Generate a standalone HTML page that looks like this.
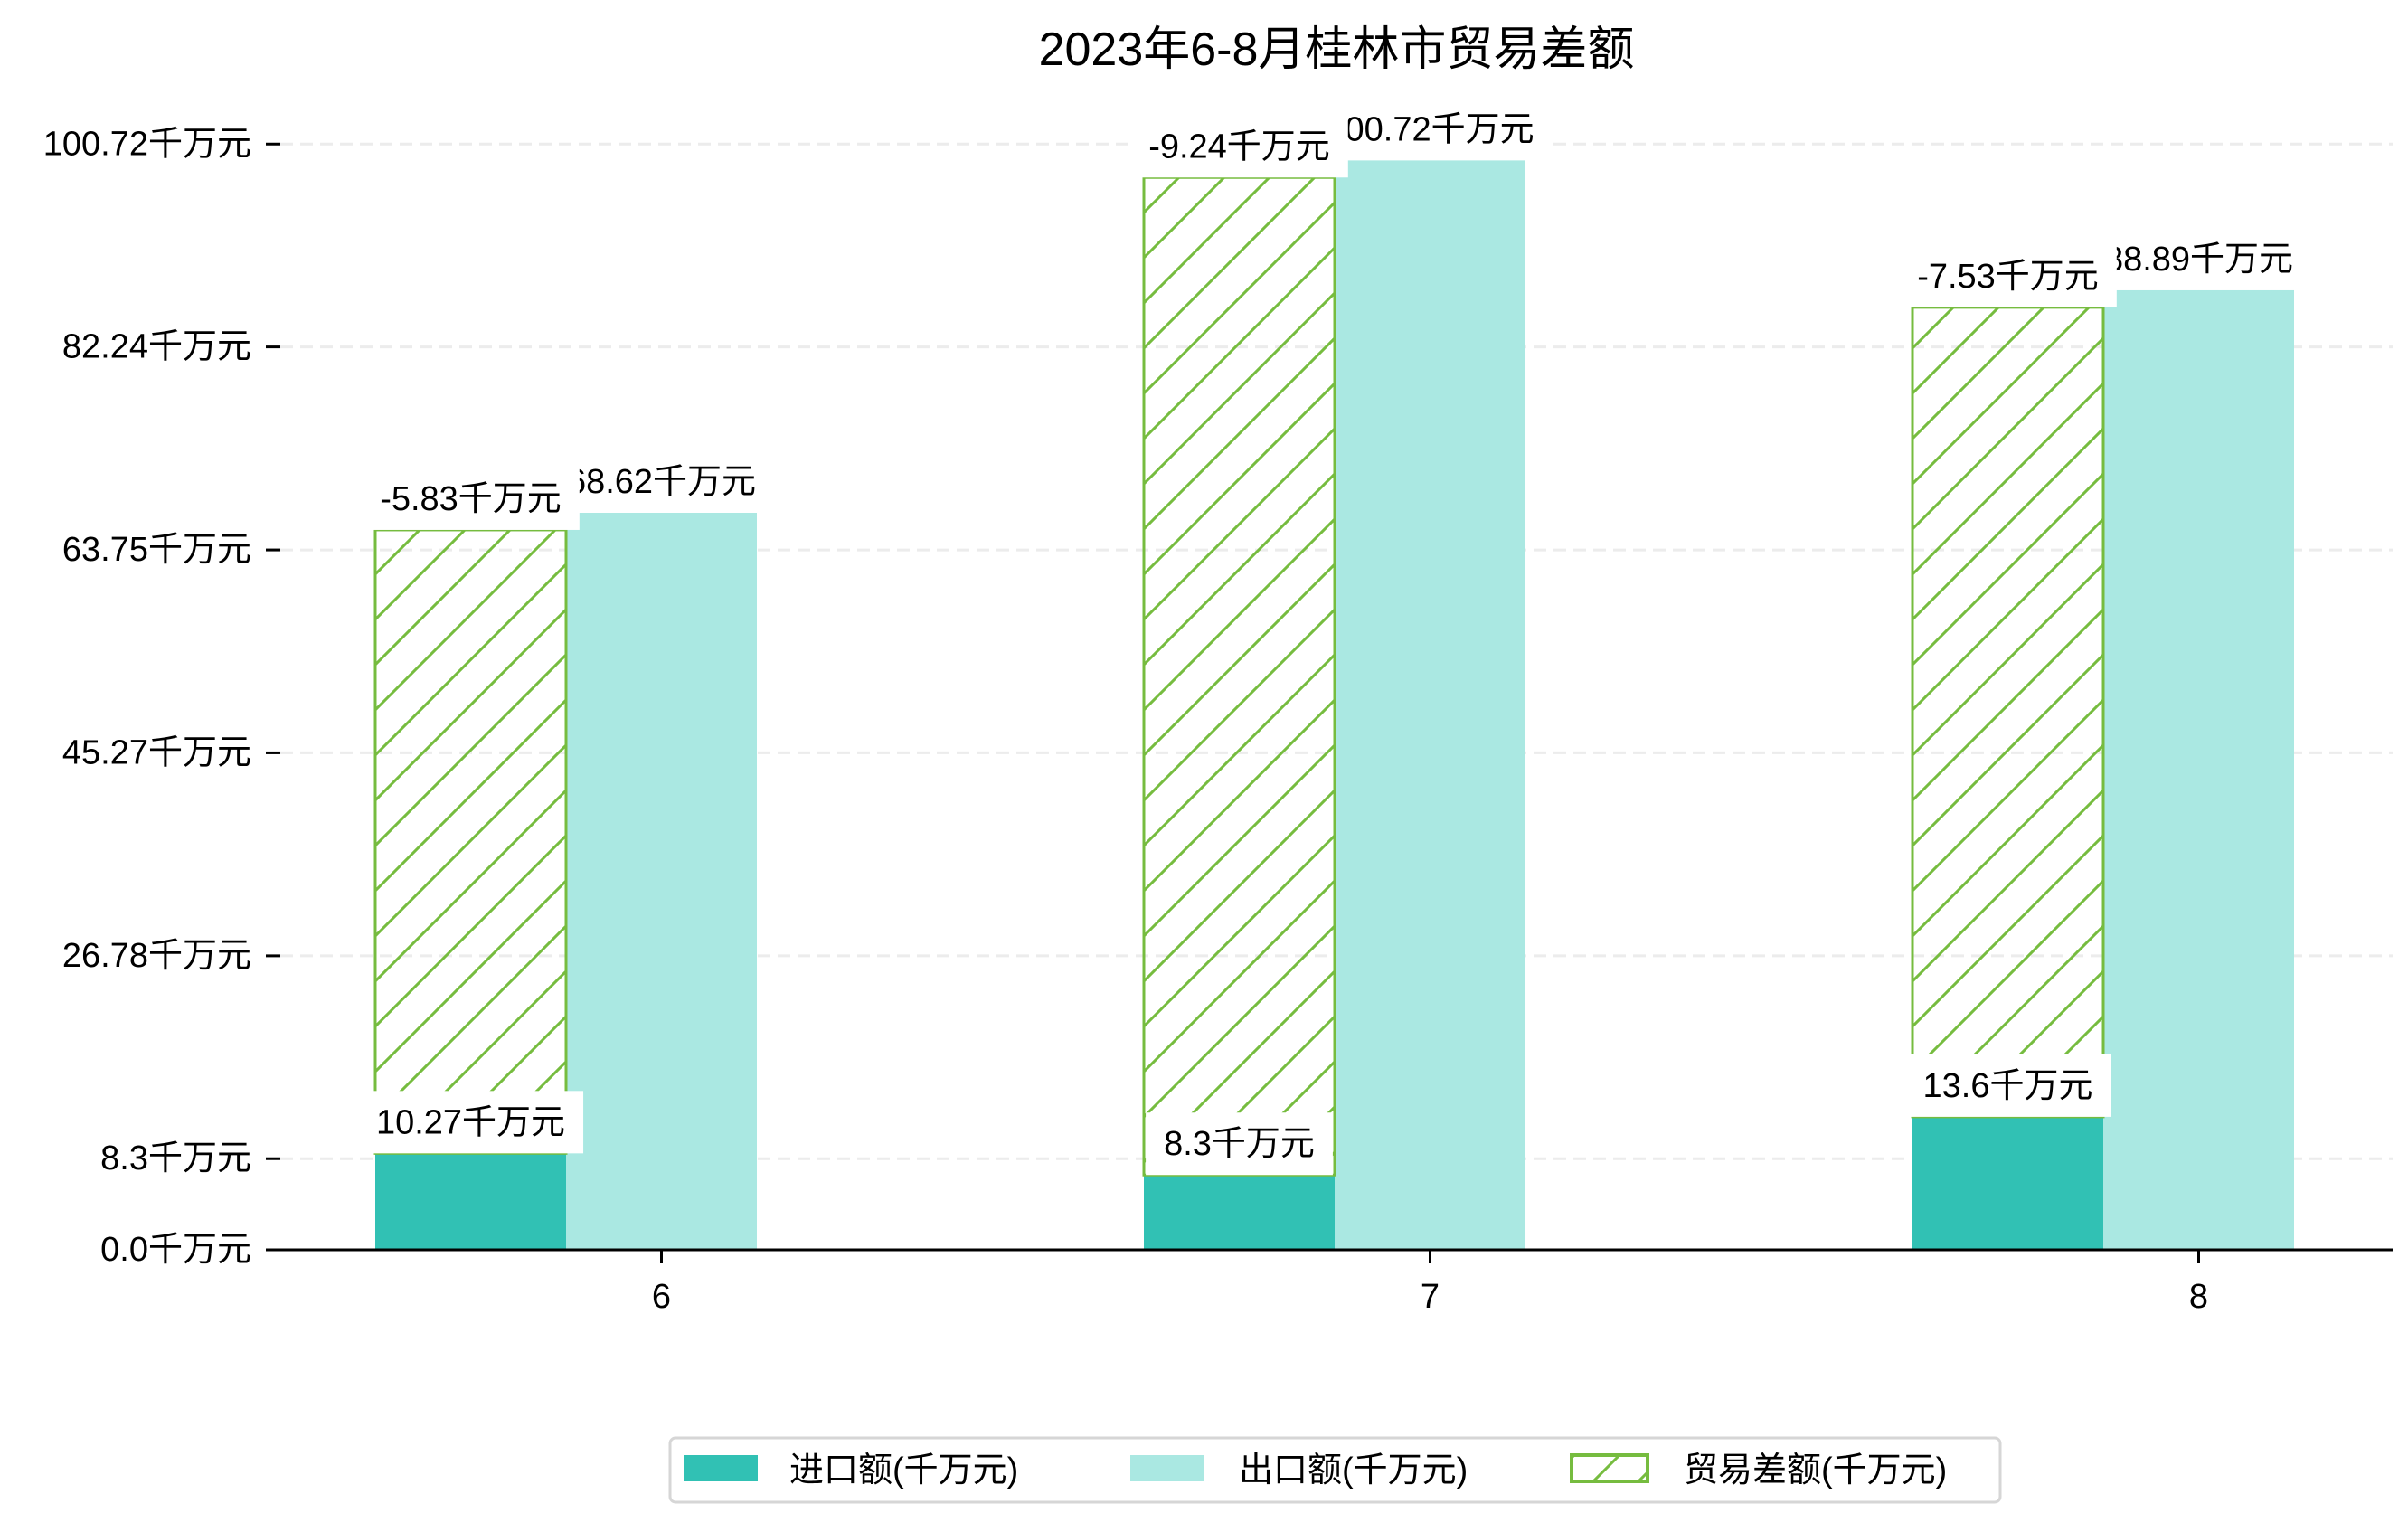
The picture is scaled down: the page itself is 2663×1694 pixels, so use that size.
<!DOCTYPE html>
<html><head><meta charset="utf-8"><style>
html,body{margin:0;padding:0;background:#fff;}
svg text{font-family:"Liberation Sans","Noto Sans CJK SC",sans-serif;fill:#000;}
</style></head><body>
<svg id="chart" width="2663" height="1689" viewBox="0 0 2663 1689" xmlns="http://www.w3.org/2000/svg">
<defs>
<pattern id="hatch" patternUnits="userSpaceOnUse" width="50" height="50">
<path d="M-5,55 L55,-5 M-30,30 L30,-30 M20,80 L80,20" stroke="#76bc3f" stroke-width="3"/>
</pattern>
</defs>
<text x="1478" y="72" text-anchor="middle" font-size="52">2023年6-8月桂林市贸易差额</text>
<g id="grid"></g>
<g id="bars"></g>
<line x1="294" y1="1382" x2="2646" y2="1382" stroke="#000" stroke-width="3"/>
<g id="axes"></g>
<g id="legend">
<rect x="741" y="1590" width="1471" height="71" rx="6" fill="#fff" stroke="#d6d6d6" stroke-width="3"/>
<rect x="756" y="1609" width="82" height="29" fill="#31c1b4"/>
<text x="873" y="1638" font-size="38">进口额(千万元)</text>
<rect x="1250" y="1609" width="82" height="29" fill="#aae8e2"/>
<text x="1370" y="1638" font-size="38">出口额(千万元)</text>
<rect x="1738" y="1609" width="84" height="29" fill="url(#hatch)" stroke="#76bc3f" stroke-width="4"/>
<text x="1862" y="1638" font-size="38">贸易差额(千万元)</text>
</g>
</svg>
<script>
const months = ['6', '7', '8'];
const imports = [10.27, 8.3, 13.6];
const exports = [68.62, 100.72, 88.89];
const balance = [-5.83, -9.24, -7.53];
const yTicks = [0.0, 8.3, 26.78, 45.27, 63.75, 82.24, 100.72];

const NS = 'http://www.w3.org/2000/svg';
const X0 = 294, X1 = 2646, BASE = 1382, PXU = 12.14;
const GROUP0 = 731.5, GROUP_STEP = 850, BW = 211;
const BAR_SHIFT = 18, HATCH_GAP = 19;
function y(v) { return BASE - v * PXU; }
function barY(v) { return Math.min(BASE, y(v) + BAR_SHIFT); }
function xc(i) { return GROUP0 + i * GROUP_STEP; }
function mk(tag, attrs, parent) {
  const e = document.createElementNS(NS, tag);
  for (const k in attrs) e.setAttribute(k, attrs[k]);
  parent.appendChild(e);
  return e;
}
const grid = document.getElementById('grid');
const axes = document.getElementById('axes');
const bars = document.getElementById('bars');

yTicks.forEach(function (t) {
  const yy = y(t);
  if (t !== 0) {
    const g = mk('line', {x1: 310, x2: X1, y1: yy, y2: yy, stroke: '#ececec', 'stroke-width': 3, 'stroke-dasharray': '14,8'}, grid);
    
    
  }
  const tk = mk('line', {x1: 294, x2: 310, y1: yy, y2: yy, stroke: '#000', 'stroke-width': 3}, axes);
  
  
  const lb = mk('text', {x: 278, y: yy, 'text-anchor': 'end', 'dominant-baseline': 'central', 'font-size': 38}, axes);
  lb.textContent = t.toFixed(t === 0 ? 1 : (Math.round(t * 10) === t * 10 ? 1 : 2)) + '千万元';
  
  
});

months.forEach(function (m, i) {
  const cx = xc(i);
  const tk = mk('line', {x1: cx, x2: cx, y1: BASE, y2: BASE + 15, stroke: '#000', 'stroke-width': 3}, axes);
  
  
  const lb = mk('text', {x: cx, y: 1446, 'text-anchor': 'middle', 'font-size': 38}, axes);
  lb.textContent = m;
  
  
});

function label(cx, bottom, txt, name) {
  const g = mk('g', {}, bars);
  
  
  const r = mk('rect', {fill: '#fff'}, g);
  const t = mk('text', {x: cx, y: bottom - 22, 'text-anchor': 'middle', 'font-size': 38}, g);
  t.textContent = txt;
  let w = 230;
  try { w = t.getComputedTextLength() || w; } catch (e) {}
  r.setAttribute('x', cx - w / 2 - 20);
  r.setAttribute('y', bottom - 69);
  r.setAttribute('width', w + 40);
  r.setAttribute('height', 69);
}

// import bars
months.forEach(function (m, i) {
  const top = barY(imports[i]);
  const r = mk('rect', {x: xc(i) - 1.5 * BW, y: top, width: BW, height: BASE - top, fill: '#31c1b4'}, bars);
  
  
});
// export bars + labels
months.forEach(function (m, i) {
  const top = barY(exports[i]);
  const r = mk('rect', {x: xc(i) - 0.5 * BW, y: top, width: BW, height: BASE - top, fill: '#aae8e2'}, bars);
  
  
});
months.forEach(function (m, i) {
  label(xc(i), barY(exports[i]), exports[i] + '千万元', 'export-value-label');
});
// balance (hatched) bars + labels
months.forEach(function (m, i) {
  const top = barY(exports[i]) + HATCH_GAP;
  const bot = barY(imports[i]);
  const r = mk('rect', {x: xc(i) - 1.5 * BW, y: top, width: BW, height: Math.max(0, bot - top), fill: 'url(#hatch)', stroke: '#76bc3f', 'stroke-width': 3}, bars);
  
  
});
months.forEach(function (m, i) {
  label(xc(i) - BW, barY(exports[i]) + HATCH_GAP, balance[i] + '千万元', 'balance-value-label');
});
months.forEach(function (m, i) {
  label(xc(i) - BW, barY(imports[i]), imports[i] + '千万元', 'import-value-label');
});
</script>
</body></html>
